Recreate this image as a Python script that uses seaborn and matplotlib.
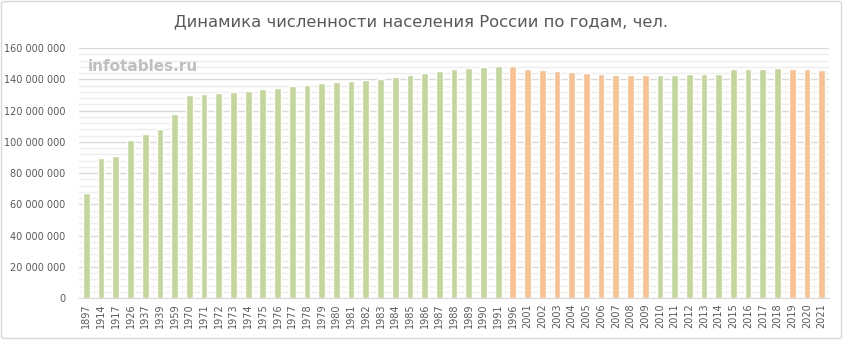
import matplotlib
matplotlib.use("Agg")
import matplotlib.pyplot as plt
import matplotlib.ticker as mticker
from matplotlib.patches import FancyBboxPatch
import seaborn as sns
import pandas as pd

years = ["1897", "1914", "1917", "1926", "1937", "1939", "1959", "1970", "1971", "1972",
         "1973", "1974", "1975", "1976", "1977", "1978", "1979", "1980", "1981", "1982",
         "1983", "1984", "1985", "1986", "1987", "1988", "1989", "1990", "1991", "1996",
         "2001", "2002", "2003", "2004", "2005", "2006", "2007", "2008", "2009", "2010",
         "2011", "2012", "2013", "2014", "2015", "2016", "2017", "2018", "2019", "2020",
         "2021"]
population = [67473000, 89902000, 91000000, 100891244, 104880000, 108377000, 117534315,
              130079210, 130563000, 131304000, 132069000, 132799000, 133633900, 134549000,
              135503000, 136363000, 137550949, 138126600, 138839600, 139617500, 140444900,
              141415200, 142539000, 143835000, 145115000, 146343000, 147021869, 147665081,
              148273746, 148291638, 146303611, 145649334, 144963650, 144333586, 143801046,
              143236582, 142862692, 142747535, 142737196, 142833502, 142865433, 143056383,
              143347059, 143666931, 146267288, 146544710, 146804372, 146880432, 146780720,
              146748590, 146171015]
trend = (["up"] * 29) + (["down"] * 10) + (["up"] * 9) + (["down"] * 3)

title = "Динамика численности населения России по годам, чел."
watermark = "infotables.ru"

df = pd.DataFrame({"year": years, "pop": population, "trend": trend})

sns.set_style("white")
plt.rcParams["font.family"] = ["DejaVu Sans"]

fig = plt.figure(figsize=(8.43, 3.40), dpi=100)
ax = fig.add_axes([79 / 843, 42 / 340, 750 / 843, 250 / 340])

sns.barplot(data=df, x="year", y="pop", hue="trend",
            palette={"up": "#C4D79B", "down": "#FAC090"},
            dodge=False, width=0.46, legend=False, ax=ax, saturation=1)

ax.set_ylim(0, 160000000)
ax.set_xlim(-0.5, len(years) - 0.5)
ax.yaxis.set_major_locator(mticker.MultipleLocator(20000000))
ax.yaxis.set_minor_locator(mticker.MultipleLocator(4000000))
ax.yaxis.set_major_formatter(mticker.FuncFormatter(
    lambda v, p: "0" if v == 0 else f"{int(v):,}".replace(",", " ")))
ax.grid(axis="y", which="major", color="#D9D9D9", linewidth=1.0)
ax.grid(axis="y", which="minor", color="#EDEDED", linewidth=1.0)
ax.set_axisbelow(True)
for s in ["top", "right", "left"]:
    ax.spines[s].set_visible(False)
ax.spines["bottom"].set_color("#D9D9D9")
ax.tick_params(axis="y", which="both", length=0, labelsize=7, labelcolor="#595959", pad=10)
ax.tick_params(axis="x", length=0, labelsize=7, labelcolor="#595959", rotation=90, pad=4)
ax.set_xlabel("")
ax.set_ylabel("")

fig.text(0.5, 1 - 22 / 340, title, ha="center", va="center", fontsize=11.8, color="#595959")
ax.text(0.012, 0.925, watermark, transform=ax.transAxes, ha="left", va="center",
        fontsize=11, fontweight="bold", color="#BFBFBF")

border = FancyBboxPatch((1.5 / 843, 1.5 / 340), 1 - 3 / 843, 1 - 3 / 340,
                        boxstyle="round,pad=0,rounding_size=0.005",
                        transform=fig.transFigure, fill=False,
                        edgecolor="#D9D9D9", linewidth=1.0)
fig.patches.append(border)

fig.savefig("out.png", dpi=100, facecolor="white")
